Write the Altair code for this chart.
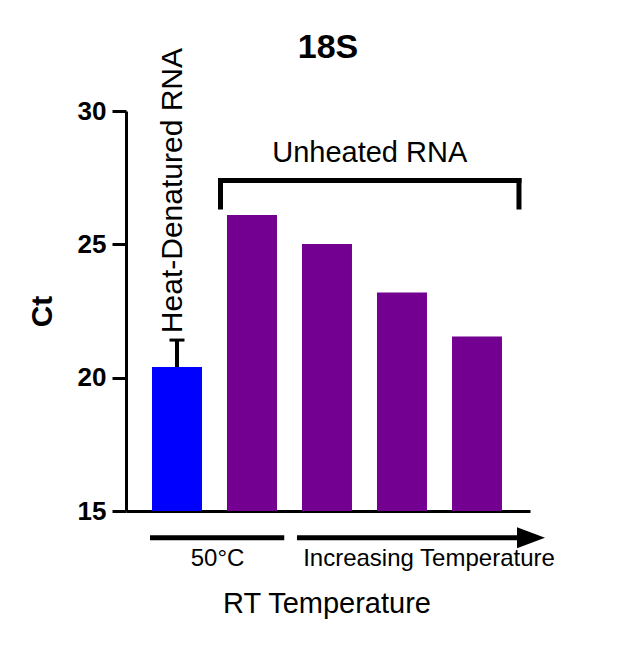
import altair as alt
import pandas as pd

FONT = "Liberation Sans"

# bars (x position = slot on the axis)
groups = ["Heat-Denatured", "Unheated 1", "Unheated 2", "Unheated 3", "Unheated 4"]
slots = [1, 2, 3, 4, 5]
ct_values = [20.40, 26.10, 25.01, 23.19, 21.54]
bar_colors = ["#0000ff", "#730090", "#730090", "#730090", "#730090"]

# error bar on the heat-denatured bar
err_slot = 1
err_high = 21.41
cap_half = 0.1

# bracket over the unheated bars
bracket_x = [1.58, 5.56]
bracket_top = 27.39
bracket_bottom = 26.40

# lines under the axis
line_50_x = [0.64, 2.43]
arrow_x = [2.60, 5.60]
arrow_head_x = 5.72
under_y = 14.0

# labels
label_texts = ["Unheated RNA", "RT Temperature"]
label_x = [3.57, 3.0]
label_y = [28.44, 11.53]
small_texts = ["50°C", "Increasing Temperature"]
small_x = [1.54, 4.36]
small_y = [13.2, 13.2]
side_text = "Heat-Denatured RNA"
side_x = 0.95
side_y = 21.67

x_scale = alt.Scale(domain=[0.32, 5.707], nice=False, zero=False, padding=0)
y_scale = alt.Scale(domain=[15, 30], nice=False, zero=False)

bars_df = pd.DataFrame({"group": groups, "slot": slots, "ct": ct_values, "color": bar_colors})

bars = alt.Chart(bars_df).mark_bar(size=50).encode(
    x=alt.X("slot:Q", scale=x_scale,
            axis=alt.Axis(title=None, labels=False, ticks=False, grid=False,
                          domainWidth=3, domainColor="black")),
    y=alt.Y("ct:Q", scale=y_scale,
            axis=alt.Axis(title="Ct", values=[15, 20, 25, 30], grid=False,
                          domainWidth=3, domainColor="black",
                          tickWidth=3, tickSize=14, tickColor="black",
                          labelFont=FONT, labelFontSize=26, labelFontWeight="bold",
                          labelColor="black", labelPadding=6,
                          titleFont=FONT, titleFontSize=30, titleFontWeight="bold",
                          titleColor="black", titlePadding=20)),
    y2=alt.datum(15),
    color=alt.Color("color:N", scale=None),
)

err_df = pd.DataFrame({"x": [err_slot], "lo": [ct_values[0]], "hi": [err_high],
                       "c1": [err_slot - cap_half], "c2": [err_slot + cap_half]})
err_line = alt.Chart(err_df).mark_rule(color="black", strokeWidth=4).encode(
    x="x:Q", y="lo:Q", y2="hi:Q")
err_cap = alt.Chart(err_df).mark_rule(color="black", strokeWidth=3).encode(
    x="c1:Q", x2="c2:Q", y="hi:Q")

bracket_h = pd.DataFrame({"x1": [bracket_x[0]], "x2": [bracket_x[1]], "y": [bracket_top]})
bracket_v = pd.DataFrame({"x": bracket_x, "y1": [bracket_bottom] * 2, "y2": [bracket_top] * 2})
bracket_top_rule = alt.Chart(bracket_h).mark_rule(color="black", strokeWidth=5, strokeCap="square").encode(
    x="x1:Q", x2="x2:Q", y="y:Q")
bracket_legs = alt.Chart(bracket_v).mark_rule(color="black", strokeWidth=5, strokeCap="square").encode(
    x="x:Q", y="y1:Q", y2="y2:Q")

under_df = pd.DataFrame({"x1": [line_50_x[0], arrow_x[0]], "x2": [line_50_x[1], arrow_x[1]],
                         "y": [under_y, under_y]})
under_lines = alt.Chart(under_df).mark_rule(color="black", strokeWidth=5).encode(
    x="x1:Q", x2="x2:Q", y="y:Q")
head_df = pd.DataFrame({"x": [arrow_head_x], "y": [under_y]})
arrow_head = alt.Chart(head_df).mark_point(
    shape="M-1,-0.75L1,0L-1,0.75Z", size=784, filled=True, color="black", opacity=1
).encode(x="x:Q", y="y:Q")

big_df = pd.DataFrame({"t": label_texts, "x": label_x, "y": label_y})
big_text = alt.Chart(big_df).mark_text(font=FONT, fontSize=29, color="black", baseline="middle").encode(
    x="x:Q", y="y:Q", text="t:N")
small_df = pd.DataFrame({"t": small_texts, "x": small_x, "y": small_y})
small_text = alt.Chart(small_df).mark_text(font=FONT, fontSize=24, color="black", baseline="middle").encode(
    x="x:Q", y="y:Q", text="t:N")
side_df = pd.DataFrame({"t": [side_text], "x": [side_x], "y": [side_y]})
side = alt.Chart(side_df).mark_text(font=FONT, fontSize=30, color="black", angle=270,
                                     align="left", baseline="middle").encode(
    x="x:Q", y="y:Q", text="t:N")

chart = alt.layer(
    bars, err_line, err_cap, bracket_top_rule, bracket_legs,
    under_lines, arrow_head, big_text, small_text, side
).properties(
    width=404, height=400,
    title=alt.TitleParams("18S", font=FONT, fontSize=34, fontWeight="bold",
                          color="black", anchor="middle", offset=-17),
    autosize=alt.AutoSizeParams(type="none"),
    padding={"left": 118, "top": 103, "right": 70, "bottom": 120},
).configure_view(stroke=None)

chart.save("out.html", embed_options={"renderer": "svg", "actions": False})
